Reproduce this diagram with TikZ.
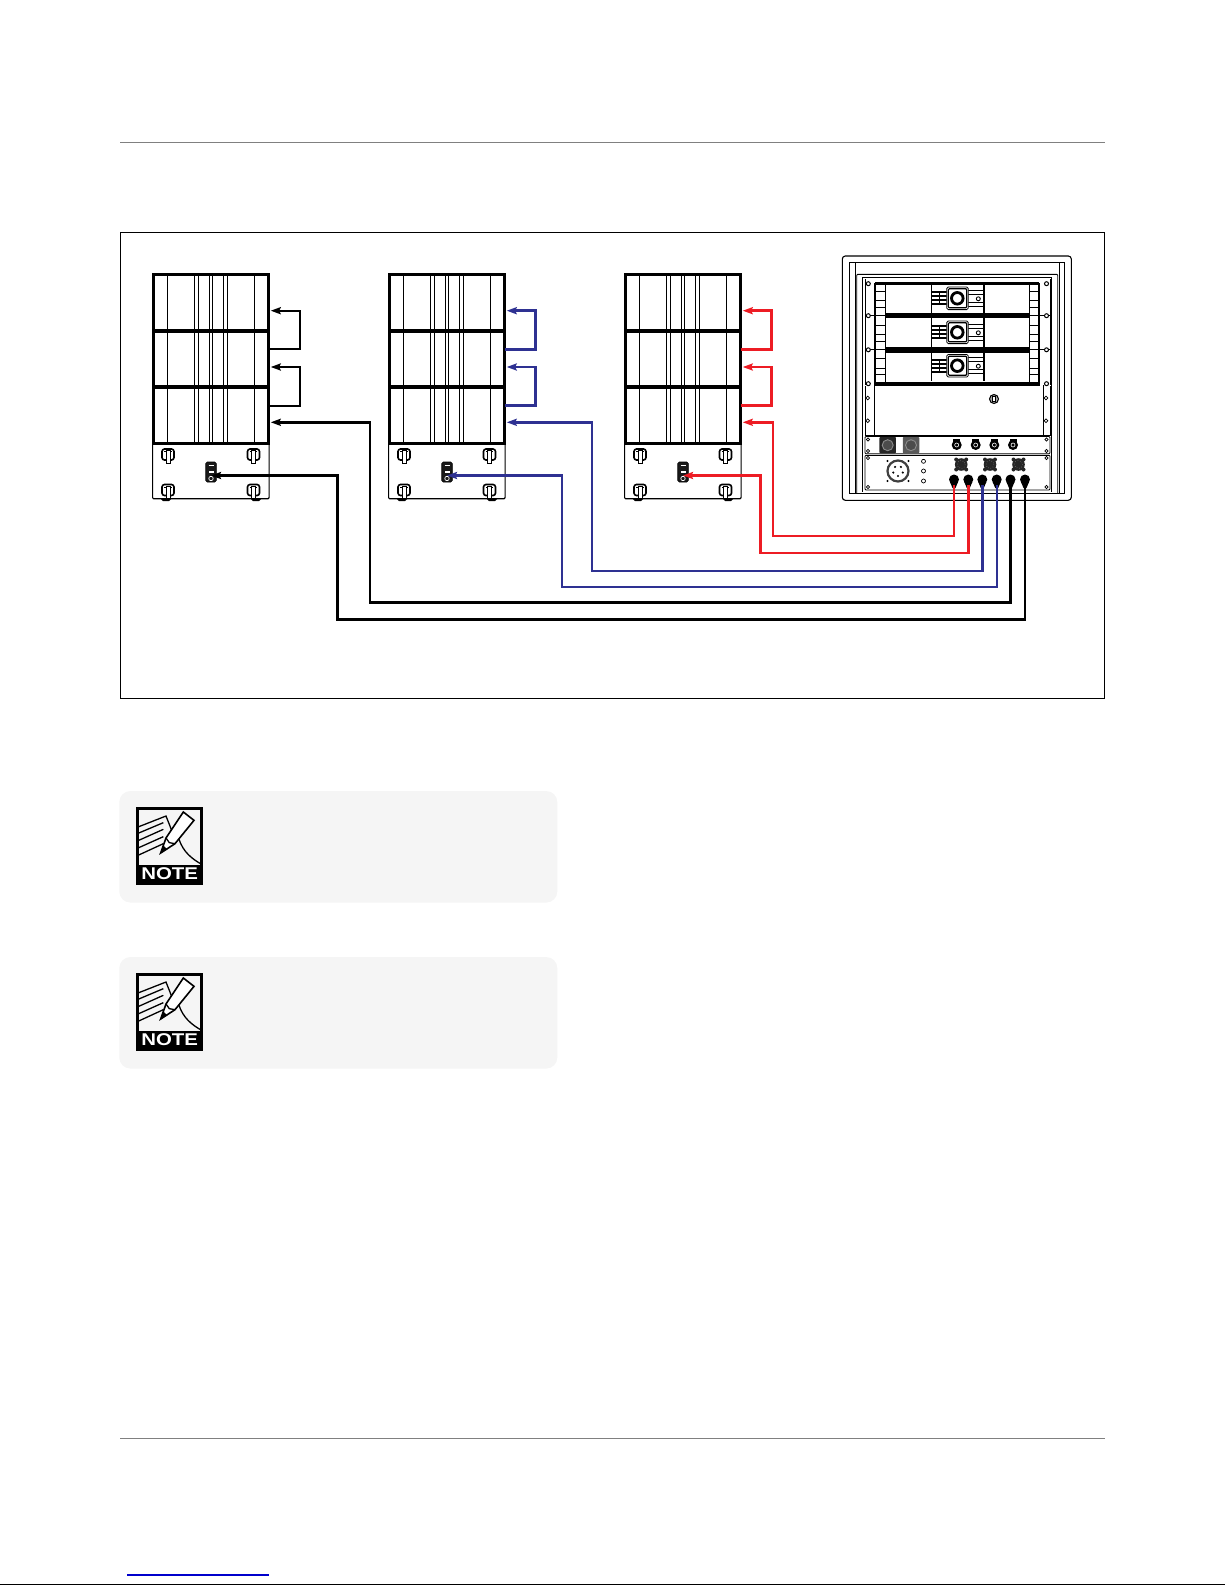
\documentclass[tikz,border=0pt]{standalone}
\usepackage{fontspec}
\setsansfont{Liberation Sans}
\usetikzlibrary{arrows.meta,positioning}
\definecolor{cred}{HTML}{ED1C24}
\definecolor{cblue}{HTML}{2E3192}
\definecolor{cgray}{HTML}{808080}
\definecolor{cnote}{HTML}{F5F5F5}
\tikzset{
	cable/.style={line width=2.4pt, draw=#1, -{Stealth[length=10pt,width=7pt,inset=1.5pt]}},
	cabinet/.style={draw, line width=3pt, minimum width=115.7pt, minimum height=56.4pt, inner sep=0pt},
	subbox/.style={draw, line width=1.2pt, rounded corners=1pt, minimum width=116.5pt, minimum height=56pt, inner sep=0pt},
	notebox/.style={fill=cnote, rounded corners=11pt, minimum width=438pt, minimum height=111.5pt, inner sep=0pt},
	outjack/.style={circle, fill=black, minimum size=10pt, inner sep=0pt},
	spkon/.style={rounded corners=1.5pt, fill=black!90, draw=black, line width=.6pt},
	hole/.style={draw, line width=.7pt, fill=white}
}
\begin{document}
\begin{tikzpicture}[x=1pt, y=-1pt]
	\useasboundingbox (0,0) rectangle (1225,1585);
	% page rules
	\draw[cgray, line width=1.3pt] (120,142.3)--(1104.5,142.3)  (120,1438.3)--(1104.5,1438.3);
	\draw[line width=1pt] (120.3,232.3) rectangle (1104.3,698.3);
	\draw[blue!80!black, line width=1.2pt] (127,1575)--(268.7,1575);
	\draw[line width=1.3pt] (0,1584.3)--(1225,1584.3);

	% speaker stacks
	\foreach \sx/\sn/\sc/\sw in {153/a/black/2.3pt, 389/b/cblue/2.8pt, 625/c/cred/2.8pt}{
		\begin{scope}[shift={(\sx,0)}]
			\foreach \i/\cy in {1/303, 2/359, 3/415}
				\node[cabinet] (cab\sn\i) at (57.85,\cy) {};
			\foreach \lx in {14.3,41.3,45.3,56.3,59.7,70.3,74.3,101.3}
				\draw[line width=1pt] (\lx,275)--(\lx,442.7);
			\draw[line width=4.2pt] (14.3,330.7)--(101.3,330.7)  (0,387.3)--(115.7,387.3);
			\node[subbox] (sub\sn) at (57.85,470.7) {};
			% handles
			\foreach \hx/\hy in {15/454.5, 100.5/454.5, 15/490, 100.5/490}{
				\draw[line width=1.6pt, rounded corners=2.5pt, fill=white] (\hx-6,\hy-5.5) rectangle (\hx+6,\hy+5.5);
				\draw[line width=.9pt] (\hx-3.7,\hy-3) -- (\hx+3.7,\hy-3);
				\draw[line width=1pt, fill=white] (\hx-2,\hy-4) rectangle (\hx+2,\hy+8.5);
			}
			\fill (8,499)--(18,499)--(16,501)--(10,501)--cycle  (98,499)--(108,499)--(106,501)--(100,501)--cycle;
			% speakon plate
			\node[spkon, minimum width=10.5pt, minimum height=20pt, inner sep=0pt] (plate\sn) at (58,472) {};
			\fill[white] (55.5,470.5) rectangle (60.5,473);
			\draw[white, line width=.7pt] (55.5,465.5)--(60.5,465.5);
			\draw[white, line width=.7pt] (58,478.5) circle (2.2);
			% cable ends
			\coordinate (in\sn1) at (117.7,310.7);
			\coordinate (in\sn2) at (117.7,367);
			\coordinate (in\sn3) at (117.7,422.3);
			\coordinate (insub\sn) at (58,475.5);
			\coordinate (jack\sn1) at (115.7,349.3);
			\coordinate (jack\sn2) at (115.7,405.7);
			\draw[cable=\sc, line width=\sw] (jack\sn1) -- ++(31,0) |- (in\sn1);
			\draw[cable=\sc, line width=\sw] (jack\sn2) -- ++(31,0) |- (in\sn2);
		\end{scope}
	}

	% rack case
	\draw[line width=1.1pt, rounded corners=3pt] (842.3,256) rectangle (1071.3,500.3);
	\draw[line width=.9pt] (849.3,493.3)--(849.3,262.3)--(1064.3,262.3)--(1064.3,493.3)--cycle;
	\draw[line width=.9pt] (855.7,262.3)--(855.7,493.3)  (1059.3,262.3)--(1059.3,493.3);
	\draw[line width=.9pt, rounded corners=1pt] (856.7,493.3)--(856.7,274.3)--(1057.7,274.3)--(1057.7,493.3);
	\draw[line width=.8pt] (862.5,491.5)--(862.5,277)--(1051,277)--(1051,491.5);

	% amplifiers
	\draw[line width=.8pt] (865,279)--(865,385)  (1050,279)--(1050,385);
	\draw[line width=3pt] (875,283)--(1039,283);
	\draw[line width=2.7pt] (875,283)--(875,386)  (1039,283)--(1039,386);
	\draw[line width=.8pt] (885.7,283)--(885.7,384)  (1029,283)--(1029,384);
	\draw[line width=5.5pt] (885.7,315.7)--(1029,315.7)  (885.7,349.8)--(1029,349.8);
	\draw[line width=4pt] (875,384)--(1039,384);
	\draw[line width=.8pt] (865,315.7)--(1050,315.7)  (865,349.8)--(1050,349.8);
	\foreach \ay in {298.3, 332.3, 365.7}{
		\foreach \dy in {-7,2.5,9}
			\draw[line width=.8pt] (875,\ay+\dy)--(885.7,\ay+\dy)  (1029,\ay+\dy)--(1039,\ay+\dy);
		\draw[line width=.9pt] (931.7,\ay-15)--(931.7,\ay+15);
		\draw[line width=2.2pt] (984,\ay-15)--(984,\ay+15);
		\foreach \dy in {-6,-2,2,6}
			\draw[line width=1.7pt] (931.7,\ay+\dy)--(946.7,\ay+\dy);
		\draw[line width=.9pt] (939,\ay-6)--(939,\ay+6);
		\foreach \dy in {-8,-4,4,8}
			\draw[line width=1.1pt] (968,\ay+\dy)--(984,\ay+\dy);
		\fill[white] (974,\ay-3.5) rectangle (983,\ay+3.5);
		\draw[line width=.8pt, rounded corners=1.5pt, fill=white] (946.7,\ay-11.3) rectangle (968.3,\ay+11.3);
		\draw[line width=1.2pt, rounded corners=1pt] (948.3,\ay-9.5) rectangle (966.7,\ay+9.5);
		\draw[line width=2.8pt, fill=white] (957.3,\ay) circle (5.8);
		\draw[hole, line width=.9pt] (978.3,\ay+.5) circle (2);
	}
	\foreach \hy in {283.7,315.7,349.8,383.7}
		\foreach \hx in {868.3,1046.5}
			\draw[hole, line width=1pt] (\hx,\hy) circle (2);

	% blank panel
	\draw[line width=.9pt] (865,386)--(865,435.5)--(1050,435.5)--(1050,386);
	\draw[line width=.9pt] (874.3,385)--(874.3,435.5)  (1043.3,385)--(1043.3,435.5);
	\foreach \hx in {867.7,1046}
		\foreach \hy in {398,420.7}
			\draw[hole] (\hx,\hy) circle (1.9);
	\draw[line width=1pt, fill=black!35] (994,399) circle (4.5);
	\node[draw, line width=.8pt, minimum width=3pt, minimum height=5pt, inner sep=0pt, fill=white] (blankscrew) at (994,399) {};

	% input panel
	\draw[line width=.9pt, rounded corners=1pt] (865,436.5) rectangle (1050,453.7);
	\foreach \hx in {868,1046.5}
		\foreach \hy in {439.5,451}
			\draw[hole] (\hx,\hy) circle (1.7);
	\foreach \qx/\qn/\qf in {887.7/1/85, 911/2/65}{
		\node[fill=black!\qf, rounded corners=1pt, minimum size=16.5pt, inner sep=0pt] (inp\qn) at (\qx,445.2) {};
		\draw[black!45, line width=.9pt, fill=black!70] (\qx,445.2) circle (5.5);
	}
	\foreach \qx in {956.7,975.7,994.3,1013}{
		\fill (\qx-3.5,439) rectangle (\qx+3.5,442);
		\fill (\qx,445) circle (5);
		\draw[white, line width=.6pt] (\qx,445) circle (2);
	}

	% output panel
	\draw[line width=.9pt, rounded corners=1pt] (865,455.3) rectangle (1050,490);
	\foreach \hx in {868,1046.5}
		\foreach \hy in {458,487}
			\draw[hole] (\hx,\hy) circle (1.7);
	\draw[line width=2.2pt, draw=black!75] (898,471) circle (10.5);
	\foreach \a in {0,72,144,216,288}
		\fill (898,471) ++(\a+90:5) circle (1.2);
	\foreach \cx in {887.5,908.5}
		\foreach \cy in {461,481}
			\fill (\cx,\cy) circle (1.2);
	\foreach \hy in {461.3,471,481}
		\draw[hole] (923.5,\hy) circle (2);
	\foreach \qx in {961.2,990,1018.5}{
		\fill[black!85] (\qx,464.5) circle (6.3);
		\foreach \ex in {-5,5}
			\foreach \ey in {-5,5}
				\fill[black!85] (\qx+\ex,464.5+\ey) circle (2);
		\draw[black!40, line width=.5pt, dotted] (\qx,464.5) circle (4);
	}
	\foreach \ox/\n in {954/1, 968.3/2, 982.3/3, 996.7/4, 1010.5/5, 1025/6}{
		\node[outjack] (out\n) at (\ox,479.5) {};
		\fill (\ox-4,482)--(\ox+4,482)--(\ox+1.5,488)--(\ox-1.5,488)--cycle;
	}

	% cables to the rack
	\draw[cable=cred]   (out1.south) |- (772.7,536)   |- (inc3);
	\draw[cable=cred]   (out2.south) |- (760.3,552.7) |- (insubc);
	\draw[cable=cblue]  (out3.south) |- (592,571)     |- (inb3);
	\draw[cable=cblue]  (out4.south) |- (562,587)     |- (insubb);
	\draw[cable=black]  (out5.south) |- (370,602.5)   |- (ina3);
	\draw[cable=black]  (out6.south) |- (337.3,619.5) |- (insuba);

	% note boxes
	\foreach \n/\ny in {1/0, 2/166}{
		\node[notebox] (notebox\n) at (338.3,846.8+\ny) {};
		\begin{scope}[shift={(130,802+\ny)}, scale=1/3]
			\draw[line width=2.4pt] (23,19) rectangle (215,245);
			\fill (23,190) rectangle (215,245);
			\node[white, font=\sffamily\bfseries\fontsize{17}{17}\selectfont] (notelabel\n) at (119,216) {\scalebox{1.2}[1]{NOTE}};
			\draw[line width=1.3pt] (24,75)--(108,42)--(125,85);
			\foreach \ly/\lz in {94/62, 116/82, 138/104, 160/125}
				\draw[line width=1.3pt] (24,\ly)--(100,\lz);
			\draw[line width=1.6pt, fill=white] (92,153)--(108,108)--(160,30)--(192,55)--(135,125)--cycle;
			\draw[line width=1.3pt] (108,108)--(118,122)--(135,125);
			\fill (92,153)--(100,130)--(112,142)--cycle;
			\draw[line width=1.3pt] (147,112) .. controls (160,150) and (185,170) .. (215,187);
		\end{scope}
	}
\end{tikzpicture}
\end{document}
